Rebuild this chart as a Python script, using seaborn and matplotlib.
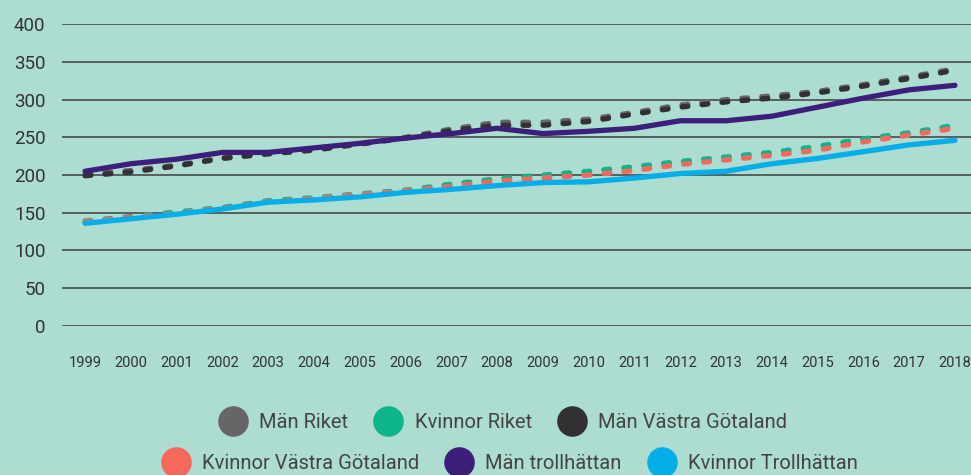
import numpy as np
import pandas as pd
import seaborn as sns
import matplotlib.pyplot as plt
from matplotlib.lines import Line2D

# Data
years = list(range(1999, 2019))
man_riket = [201, 206, 213, 223, 229, 234, 242, 250, 261, 270, 270, 274, 283, 293, 300, 305, 311, 320, 330, 341]
kvinnor_riket = [139, 145, 151, 157, 166, 170, 175, 180, 188, 195, 200, 205, 211, 218, 224, 230, 238, 248, 256, 266]
man_vg = [199, 204, 212, 222, 228, 233, 241, 249, 259, 266, 266, 271, 281, 290, 297, 302, 309, 318, 328, 339]
kvinnor_vg = [138, 144, 149, 156, 165, 169, 174, 179, 185, 192, 196, 200, 206, 214, 220, 226, 233, 244, 253, 262]
man_troll = [205, 215, 221, 230, 230, 236, 242, 249, 255, 262, 255, 258, 262, 272, 272, 278, 290, 302, 313, 319]
kvinnor_troll = [136, 142, 148, 155, 164, 167, 171, 177, 181, 186, 190, 191, 196, 202, 205, 215, 222, 231, 240, 246]

names = ['Män Riket', 'Kvinnor Riket', 'Män Västra Götaland',
         'Kvinnor Västra Götaland', 'Män trollhättan', 'Kvinnor Trollhättan']
series = [man_riket, kvinnor_riket, man_vg, kvinnor_vg, man_troll, kvinnor_troll]
colors = ['#676568', '#0db48c', '#333033', '#f4695b', '#3b1f7b', '#05aee8']
dashed = [True, True, True, True, False, False]

df = pd.concat([pd.DataFrame({'År': years, 'Värde': v, 'Serie': n}) for n, v in zip(names, series)])

bg = '#addcd0'
sns.set_theme(style='white')
plt.rcParams['font.family'] = ['Roboto', 'DejaVu Sans']

fig = plt.figure(figsize=(9.71, 4.75), dpi=100, facecolor=bg)
ax = fig.add_axes([0.064, 0.314, 0.936, 0.635])
ax.set_facecolor(bg)

for i in range(6):
    sub = df[df['Serie'] == names[i]]
    line = sns.lineplot(data=sub, x='År', y='Värde', color=colors[i], lw=3.8, ax=ax,
                        legend=False).lines[-1]
    line.set_solid_capstyle('round')
    if dashed[i]:
        line.set_dashes((1.1, 2.7))
        line.set_dash_capstyle('round')

ax.set_ylim(0, 400)
ax.set_xlim(1998.5, 2018.35)
ax.set_yticks(range(0, 401, 50))
ax.set_xticks(years)
ax.set_xticklabels([str(y) for y in years], fontsize=10.5, color='#333333')
ax.tick_params(axis='x', length=0, pad=22)
ax.tick_params(axis='y', length=0, pad=12, labelsize=13.5, labelcolor='#333333')
ax.yaxis.grid(True, color='#4a4a4a', lw=1.2)
ax.set_axisbelow(True)
for s in ax.spines.values():
    s.set_visible(False)
ax.set_xlabel('')
ax.set_ylabel('')

def handles(idx):
    return [Line2D([], [], ls='none', marker='o', markersize=21, color=colors[i]) for i in idx]

leg1 = fig.legend(handles([0, 1, 2]), names[:3], loc='center', bbox_to_anchor=(0.515, 0.11),
                  ncol=3, frameon=False, fontsize=14.5, handletextpad=0.3, columnspacing=1.0,
                  labelcolor='#444444')
leg2 = fig.legend(handles([3, 4, 5]), names[3:], loc='center', bbox_to_anchor=(0.522, 0.024),
                  ncol=3, frameon=False, fontsize=14.5, handletextpad=0.3, columnspacing=1.0,
                  labelcolor='#444444')

fig.savefig('out.png', dpi=100, facecolor=bg)
